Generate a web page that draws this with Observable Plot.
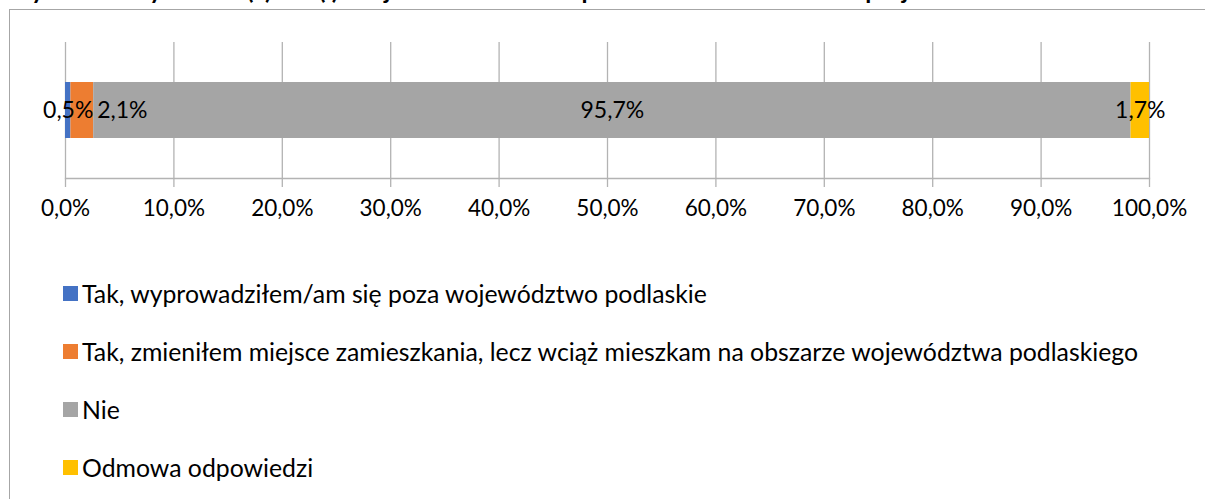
<!DOCTYPE html>
<html>
<head>
<meta charset="utf-8">
<script src="https://cdn.jsdelivr.net/npm/d3@7"></script>
<script src="https://cdn.jsdelivr.net/npm/@observablehq/plot@0.6"></script>
<style>
  body { margin: 0; background: #fff; }
  #wrap { position: relative; width: 1205px; height: 499px; overflow: hidden; font-family: Lato, "Noto Sans", sans-serif; color: #000; }
  #title { position: absolute; left: 6px; top: -25px; font-weight: bold; font-size: 24.5px; white-space: nowrap; }
  #border { position: absolute; left: 9px; top: 9px; width: 1400px; height: 700px; border: 1.5px solid #a6a6a6; box-sizing: border-box; }
  #chart { position: absolute; left: 0; top: 0; }
  #legend { position: absolute; left: 63px; top: 264px; font-size: 24.8px; }
  .item { display: flex; align-items: center; height: 58px; white-space: nowrap; }
  .sw { width: 15px; height: 15px; margin-right: 4px; flex: none; }
</style>
</head>
<body>
<div id="wrap">
  <div id="title">Wykres 7. Czy zmienił(a) Pan(i) miejsce zamieszkania po zakończeniu udziału w projekcie</div>
  <div id="border"></div>
  <div id="chart"></div>
  <div id="legend"></div>
</div>
<script>
const categories = [
  "Tak, wyprowadziłem/am się poza województwo podlaskie",
  "Tak, zmieniłem miejsce zamieszkania, lecz wciąż mieszkam na obszarze województwa podlaskiego",
  "Nie",
  "Odmowa odpowiedzi"
];
const values = [0.5, 2.1, 95.7, 1.7];
const colors = ["#4472C4", "#ED7D31", "#A5A5A5", "#FFC000"];
const tickValues = [0, 10, 20, 30, 40, 50, 60, 70, 80, 90, 100];

const fmt = v => v.toFixed(1).replace(".", ",") + "%";

let acc = 0;
const data = categories.map((c, i) => {
  const start = acc;
  acc += values[i];
  return { cat: c, value: values[i], mid: start + values[i] / 2, label: fmt(values[i]), row: "r", i };
});

const chart = Plot.plot({
  width: 1205,
  height: 240,
  marginLeft: 65,
  marginRight: 56,
  marginTop: 42,
  marginBottom: 62,
  style: { fontFamily: "Lato, 'Noto Sans', sans-serif", fontSize: "22px", color: "#000", background: "transparent", overflow: "visible" },
  x: { domain: [0, 100], ticks: tickValues, tickFormat: fmt, label: null },
  y: { domain: ["r"], axis: null, padding: 0 },
  color: { domain: categories, range: colors },
  marks: [
    Plot.gridX(tickValues, { stroke: "#b3b3b3", strokeOpacity: 1, strokeWidth: 1.3 }),
    Plot.frame({ anchor: "bottom", stroke: "#b3b3b3", strokeWidth: 1.3 }),
    Plot.axisX(tickValues, { tickSize: 9, tickPadding: 13, stroke: "#b3b3b3", strokeWidth: 1.3, tickFormat: fmt, fill: "#000", fontSize: 22.5, label: null }),
    Plot.barX(data, { x: "value", y: "row", fill: "cat", insetTop: 40, insetBottom: 40 }),
    Plot.text(data.filter(d => d.i !== 1), { x: "mid", y: "row", text: "label", fill: "#000", fontSize: 23 }),
    Plot.text(data.filter(d => d.i === 1), { x: "mid", y: "row", text: "label", fill: "#000", fontSize: 23, dx: 40 })
  ]
});
document.getElementById("chart").appendChild(chart);

const legend = document.getElementById("legend");
categories.forEach((c, i) => {
  const row = document.createElement("div");
  row.className = "item";
  const sw = document.createElement("span");
  sw.className = "sw";
  sw.style.background = colors[i];
  const t = document.createElement("span");
  t.textContent = c;
  row.appendChild(sw);
  row.appendChild(t);
  legend.appendChild(row);
});
</script>
</body>
</html>
